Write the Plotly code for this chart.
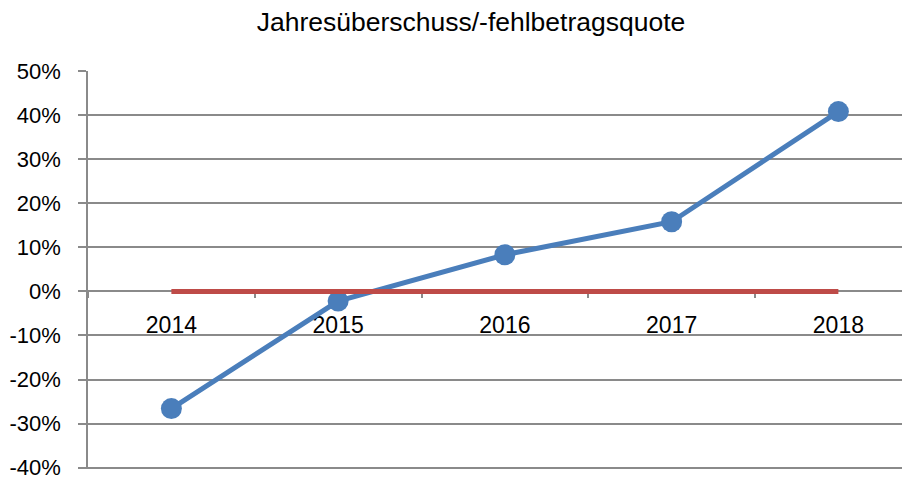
import plotly.graph_objects as go

years = ["2014", "2015", "2016", "2017", "2018"]
quote = [-26.6, -2.2, 8.3, 15.8, 40.8]
null_line = [0, 0, 0, 0, 0]
y_ticks = [-40, -30, -20, -10, 0, 10, 20, 30, 40, 50]
y_tick_text = ["-40%", "-30%", "-20%", "-10%", "0%", "10%", "20%", "30%", "40%", "50%"]

fig = go.Figure()
fig.add_trace(go.Scatter(
    x=years, y=quote, mode="lines+markers",
    line=dict(color="#4A7EBB", width=5),
    marker=dict(size=21, color="#4A7EBB"),
    showlegend=False, cliponaxis=False,
))
fig.add_trace(go.Scatter(
    x=years, y=null_line, mode="lines",
    line=dict(color="#BE4B48", width=5),
    showlegend=False, cliponaxis=False,
))

grid = "#8a8a8a"
# page body has an 8px default margin, so the figure is 902x469 placed at (8, 8)
fig.update_layout(
    width=902, height=469,
    margin=dict(l=80, r=0, t=63, b=7.7),
    paper_bgcolor="white", plot_bgcolor="white",
    font=dict(family="Liberation Sans, Arial, sans-serif", color="black"),
    title=dict(text="Jahresüberschuss/-fehlbetragsquote", x=463/902, xanchor="center",
               xref="container", yref="container", y=1 - 14/469, yanchor="middle",
               font=dict(size=26.5, color="black")),
    xaxis=dict(type="category", range=[-0.5, -0.5 + 822/166.75],
               anchor="free", position=40.3/90.3, automargin=False, layer="below traces",
               showgrid=False, showline=True, linecolor=grid, linewidth=1.5,
               ticks="outside", tickson="boundaries", ticklen=6, tickcolor=grid, tickwidth=1.5,
               tickfont=dict(size=23), ticklabelstandoff=13, zeroline=False),
    yaxis=dict(range=[-40.3, 50], tickvals=y_ticks, ticktext=y_tick_text,
               automargin=False, layer="below traces", ticklabeloverflow="allow",
               showgrid=True, gridcolor=grid, gridwidth=1.5,
               showline=True, linecolor=grid, linewidth=1.5,
               ticks="outside", ticklen=8, tickcolor=grid, tickwidth=1.5,
               tickfont=dict(size=22), ticklabelstandoff=13, zeroline=False),
)

fig.write_html("out.html")
